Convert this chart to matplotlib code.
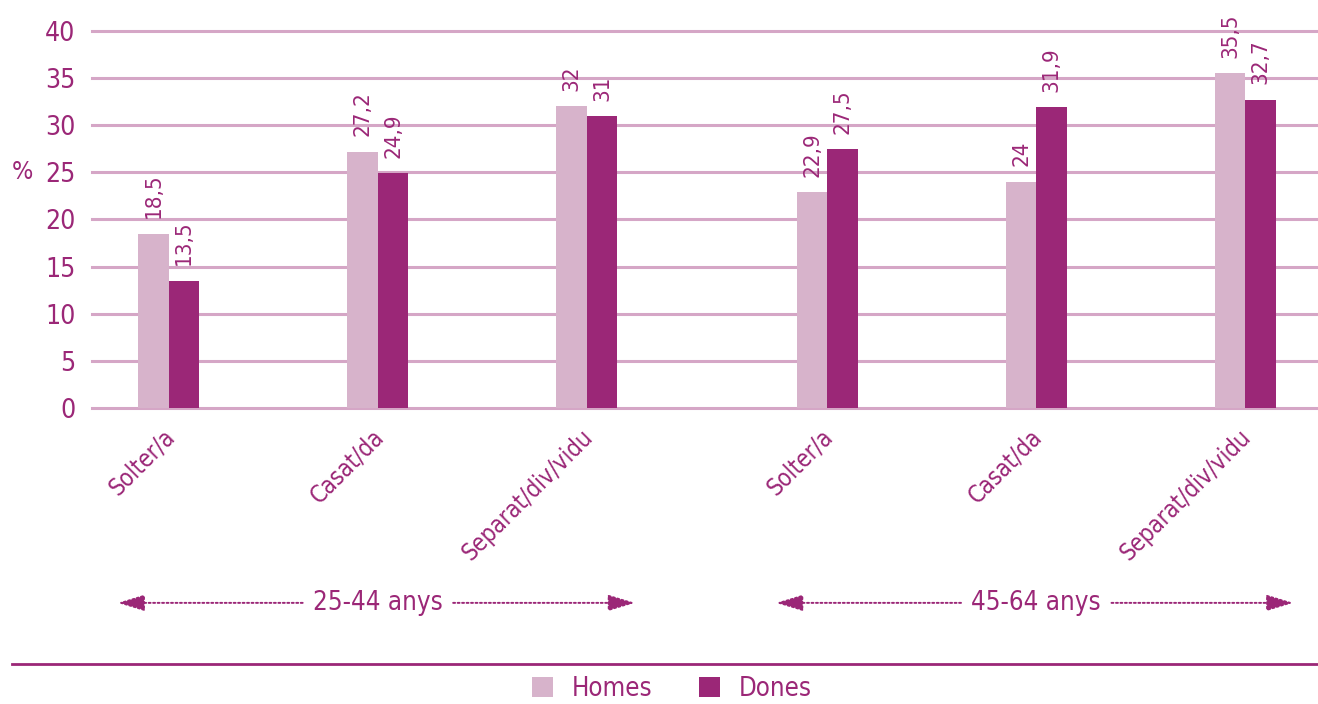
import matplotlib.pyplot as plt
import numpy as np
from matplotlib.lines import Line2D
from matplotlib.transforms import blended_transform_factory

# data
categories = ["Solter/a", "Casat/da", "Separat/div/vidu",
              "Solter/a", "Casat/da", "Separat/div/vidu"]
homes = [18.5, 27.2, 32.0, 22.9, 24.0, 35.5]
dones = [13.5, 24.9, 31.0, 27.5, 31.9, 32.7]
age_groups = ["25-44 anys", "45-64 anys"]
yticks = [0, 5, 10, 15, 20, 25, 30, 35, 40]

TEXT = "#9b2777"
HOMES_C = "#d7b3cb"
DONES_C = "#9b2777"
GRID_C = "#d5a6c6"

plt.rcParams['font.family'] = ['DejaVu Sans']
plt.rcParams['font.stretch'] = 'condensed'

fig = plt.figure(figsize=(13.18, 7.04), dpi=100)
ax = fig.add_axes([0.0698, 0.4205, 0.9302, 0.5355])

x = np.array([0, 1, 2, 3.15, 4.15, 5.15])
w = 0.146

ax.set_axisbelow(True)
ax.grid(axis="y", color=GRID_C, linewidth=2.2)
for gl in ax.get_ygridlines():
    gl.set_clip_on(False)
b1 = ax.bar(x - w / 2, homes, w, color=HOMES_C, label="Homes", zorder=3)
b2 = ax.bar(x + w / 2, dones, w, color=DONES_C, label="Dones", zorder=3)

# value labels, rotated
for bars, vals in ((b1, homes), (b2, dones)):
    for bar, v in zip(bars, vals):
        txt = f"{v:g}".replace(".", ",")
        ax.annotate(txt, (bar.get_x() + bar.get_width() / 2, v),
                    xytext=(0, 11), textcoords="offset points",
                    rotation=90, ha="center", va="bottom",
                    color=TEXT, fontsize=16)

ax.set_xlim(-0.368, 5.498)
ax.set_ylim(0, 40)
ax.set_yticks(yticks)
ax.set_yticklabels([str(t) for t in yticks], color=TEXT, fontsize=19)
ax.tick_params(axis="y", length=0, pad=12)
ax.set_xticks([])
for s in ax.spines.values():
    s.set_visible(False)

ax.text(-0.057, 0.625, "%", transform=ax.transAxes, color=TEXT,
        fontsize=18, ha="center", va="center")

# category labels at 45 degrees
tr = blended_transform_factory(ax.transData, ax.transAxes)
for xi, cat in zip(x, categories):
    ax.text(xi + 0.05, -0.045, cat, transform=tr, rotation=45,
            ha="right", va="top", color=TEXT, fontsize=17)

# age group arrows
for center, label in zip([x[1], x[4]], age_groups):
    yy = -0.517
    ax.text(center, yy, label, transform=tr, ha="center", va="center",
            color=TEXT, fontsize=18.5)
    for end, start in ((center - 1.245, center - 0.36), (center + 1.23, center + 0.36)):
        ax.annotate("", xy=(end, yy), xycoords=tr, xytext=(start, yy),
                    textcoords=tr, annotation_clip=False,
                    arrowprops=dict(arrowstyle="-|>,head_length=1.65,head_width=0.5",
                                    linestyle=(0, (1, 1.3)), color=TEXT,
                                    lw=1.4, shrinkA=0, shrinkB=0))

# separator line
fig.add_artist(Line2D([12 / 1318, 1.0], [1 - 664 / 704] * 2, color=TEXT,
                      lw=2, transform=fig.transFigure))

leg = fig.legend(handles=[b1, b2], loc="center", bbox_to_anchor=(0.51, 0.021),
                 ncol=2, frameon=False, fontsize=18.5, handlelength=0.8,
                 handleheight=0.8, columnspacing=1.8, handletextpad=0.75)
for t in leg.get_texts():
    t.set_color(TEXT)

fig.savefig("out.png", dpi=100)
